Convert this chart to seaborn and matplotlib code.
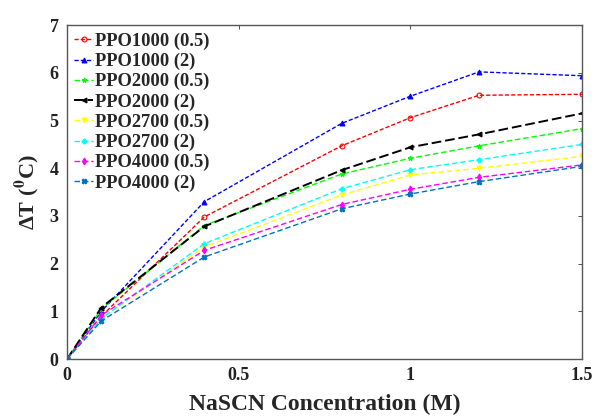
import matplotlib
matplotlib.use("Agg")
import matplotlib.pyplot as plt
import seaborn as sns
import pandas as pd

conc = [0, 0.1, 0.4, 0.8, 1.0, 1.2, 1.5]
series_names = ["PPO1000 (0.5)", "PPO1000 (2)", "PPO2000 (0.5)", "PPO2000 (2)",
                "PPO2700 (0.5)", "PPO2700 (2)", "PPO4000 (0.5)", "PPO4000 (2)"]
ppo1000_05 = [0, 0.90, 2.98, 4.47, 5.06, 5.53, 5.55]
ppo1000_2 = [0, 1.00, 3.30, 4.94, 5.51, 6.02, 5.94]
ppo2000_05 = [0, 1.05, 2.80, 3.88, 4.21, 4.47, 4.83]
ppo2000_2 = [0, 1.08, 2.78, 3.96, 4.44, 4.71, 5.15]
ppo2700_05 = [0, 0.85, 2.35, 3.44, 3.86, 4.00, 4.25]
ppo2700_2 = [0, 0.85, 2.42, 3.57, 3.97, 4.18, 4.50]
ppo4000_05 = [0, 0.92, 2.28, 3.24, 3.56, 3.81, 4.07]
ppo4000_2 = [0, 0.80, 2.14, 3.15, 3.46, 3.72, 4.04]
values = [ppo1000_05, ppo1000_2, ppo2000_05, ppo2000_2,
          ppo2700_05, ppo2700_2, ppo4000_05, ppo4000_2]
colors = ["#ff0000", "#0000ff", "#00ff00", "#000000",
          "#ffff00", "#00ffff", "#ff00ff", "#0072bd"]
markers = ["o", "^", "*", "<", "v", "P", "d", "X"]
dashes = [(3, 1.5), (3, 1.5), (4, 2), (5, 2), (4, 2), (4, 2), (4, 2), (4, 2)]

rows = []
for name, vals in zip(series_names, values):
    for x, y in zip(conc, vals):
        rows.append({"conc": x, "dT": y, "series": name})
df = pd.DataFrame(rows)

sns.set_style("white")
plt.rcParams["font.family"] = ["Liberation Serif", "DejaVu Serif"]
plt.rcParams["mathtext.fontset"] = "stix"

fig = plt.figure(figsize=(5.95, 4.19), dpi=100)
ax = fig.add_axes([0.1126, 0.143, 0.8655, 0.797])

sns.lineplot(data=df, x="conc", y="dT", hue="series", style="series",
             hue_order=series_names, style_order=series_names,
             palette=dict(zip(series_names, colors)),
             markers=dict(zip(series_names, markers)),
             dashes=dict(zip(series_names, dashes)),
             linewidth=1.0, markersize=3.5, markeredgewidth=0.8,
             ax=ax)
for ln, c in zip(ax.lines[:len(colors)], colors):
    ln.set_markeredgecolor(c)
ax.lines[0].set_markerfacecolor("none")
ax.lines[3].set_linewidth(1.4)

ax.set_xlim(0, 1.5)
ax.set_ylim(0, 7)
ax.set_xticks([0, 0.5, 1, 1.5])
ax.set_xticklabels(["0", "0.5", "1", "1.5"])
ax.set_yticks(range(0, 8))
ax.tick_params(direction="in", length=3, width=0.6, top=True, right=True,
               labelsize=13, colors="#333333", labelcolor="#222222", pad=6)
for lab in ax.get_xticklabels() + ax.get_yticklabels():
    lab.set_fontweight("bold")
for sp in ax.spines.values():
    sp.set_color("#555555")
    sp.set_linewidth(1.0)

ax.set_xlabel("NaSCN Concentration (M)", fontsize=17, fontweight="bold", labelpad=7)
ax.set_ylabel(r"ΔT ($\mathbf{^{0}}$C)", fontsize=16, fontweight="bold", labelpad=6)

leg = ax.legend(loc="upper left", frameon=False,
                prop={"weight": "bold", "size": 13.3},
                handlelength=1.0, handletextpad=0.1, labelspacing=0.16,
                borderaxespad=0.2, borderpad=0.2)
for h, c in zip(leg.legend_handles, colors):
    h.set_markeredgecolor(c)
leg.legend_handles[0].set_markerfacecolor("none")
leg.legend_handles[3].set_linewidth(1.4)

fig.savefig("out.png", dpi=100)
